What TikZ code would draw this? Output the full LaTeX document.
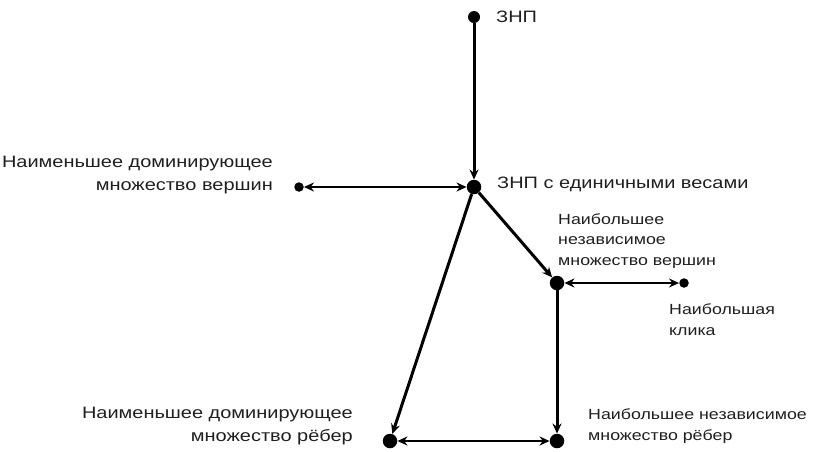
\documentclass[tikz,border=0pt]{standalone}
\usepackage{fontspec}
\setmainfont[FakeStretch=1.21]{Liberation Sans}
\usetikzlibrary{arrows.meta}
\begin{document}
\begin{tikzpicture}[x=1pt,y=-1pt,
  bigdot/.style={circle,fill=black,inner sep=0pt,minimum size=14.5pt},
  middot/.style={circle,fill=black,inner sep=0pt,minimum size=12pt},
  smalldot/.style={circle,fill=black,inner sep=0pt,minimum size=9.5pt},
  conn/.style={line width=3pt,-{Stealth[length=10pt,width=9pt]}},
  biconn/.style={line width=2.4pt,{Stealth[length=10pt,width=9pt]}-{Stealth[length=10pt,width=9pt]}},
  lbl/.style={font=\fontsize{16.5}{22.5}\selectfont,inner sep=0pt,text=black!88},
  slbl/.style={font=\fontsize{14.7}{20.8}\selectfont,inner sep=0pt,text=black!88}]
\useasboundingbox (0,0) rectangle (820,451);
\node[middot] (znp) at (474,17) {};
\node[bigdot] (unit) at (474,187) {};
\node[smalldot] (mdv) at (299,187) {};
\node[bigdot] (misv) at (557,283) {};
\node[smalldot] (clq) at (684,283) {};
\node[bigdot] (mde) at (390,441) {};
\node[bigdot] (mie) at (557,441) {};

\draw[conn] (znp) -- (unit);
\draw[biconn] (mdv) -- (unit);
\draw[conn] (unit) -- (misv);
\draw[conn] (unit) -- (mde);
\draw[conn] (misv) -- (mie);
\draw[biconn] (misv) -- (clq);
\draw[biconn] (mde) -- (mie);

\node[lbl,anchor=west] (tznp) at (496,17) {ЗНП};
\node[lbl,anchor=west] (tunit) at (497,184) {ЗНП с единичными весами};
\node[lbl,anchor=east,align=right] (tmdv) at (273,175) {Наименьшее доминирующее\\множество вершин};
\node[slbl,anchor=west,align=left] (tmisv) at (558,241) {Наибольшее\\независимое\\множество вершин};
\node[slbl,anchor=west,align=left] (tclq) at (669,320) {Наибольшая\\клика};
\node[lbl,anchor=east,align=right] (tmde) at (353,426) {Наименьшее доминирующее\\множество рёбер};
\node[slbl,anchor=west,align=left] (tmie) at (588,426) {Наибольшее независимое\\множество рёбер};
\end{tikzpicture}
\end{document}
